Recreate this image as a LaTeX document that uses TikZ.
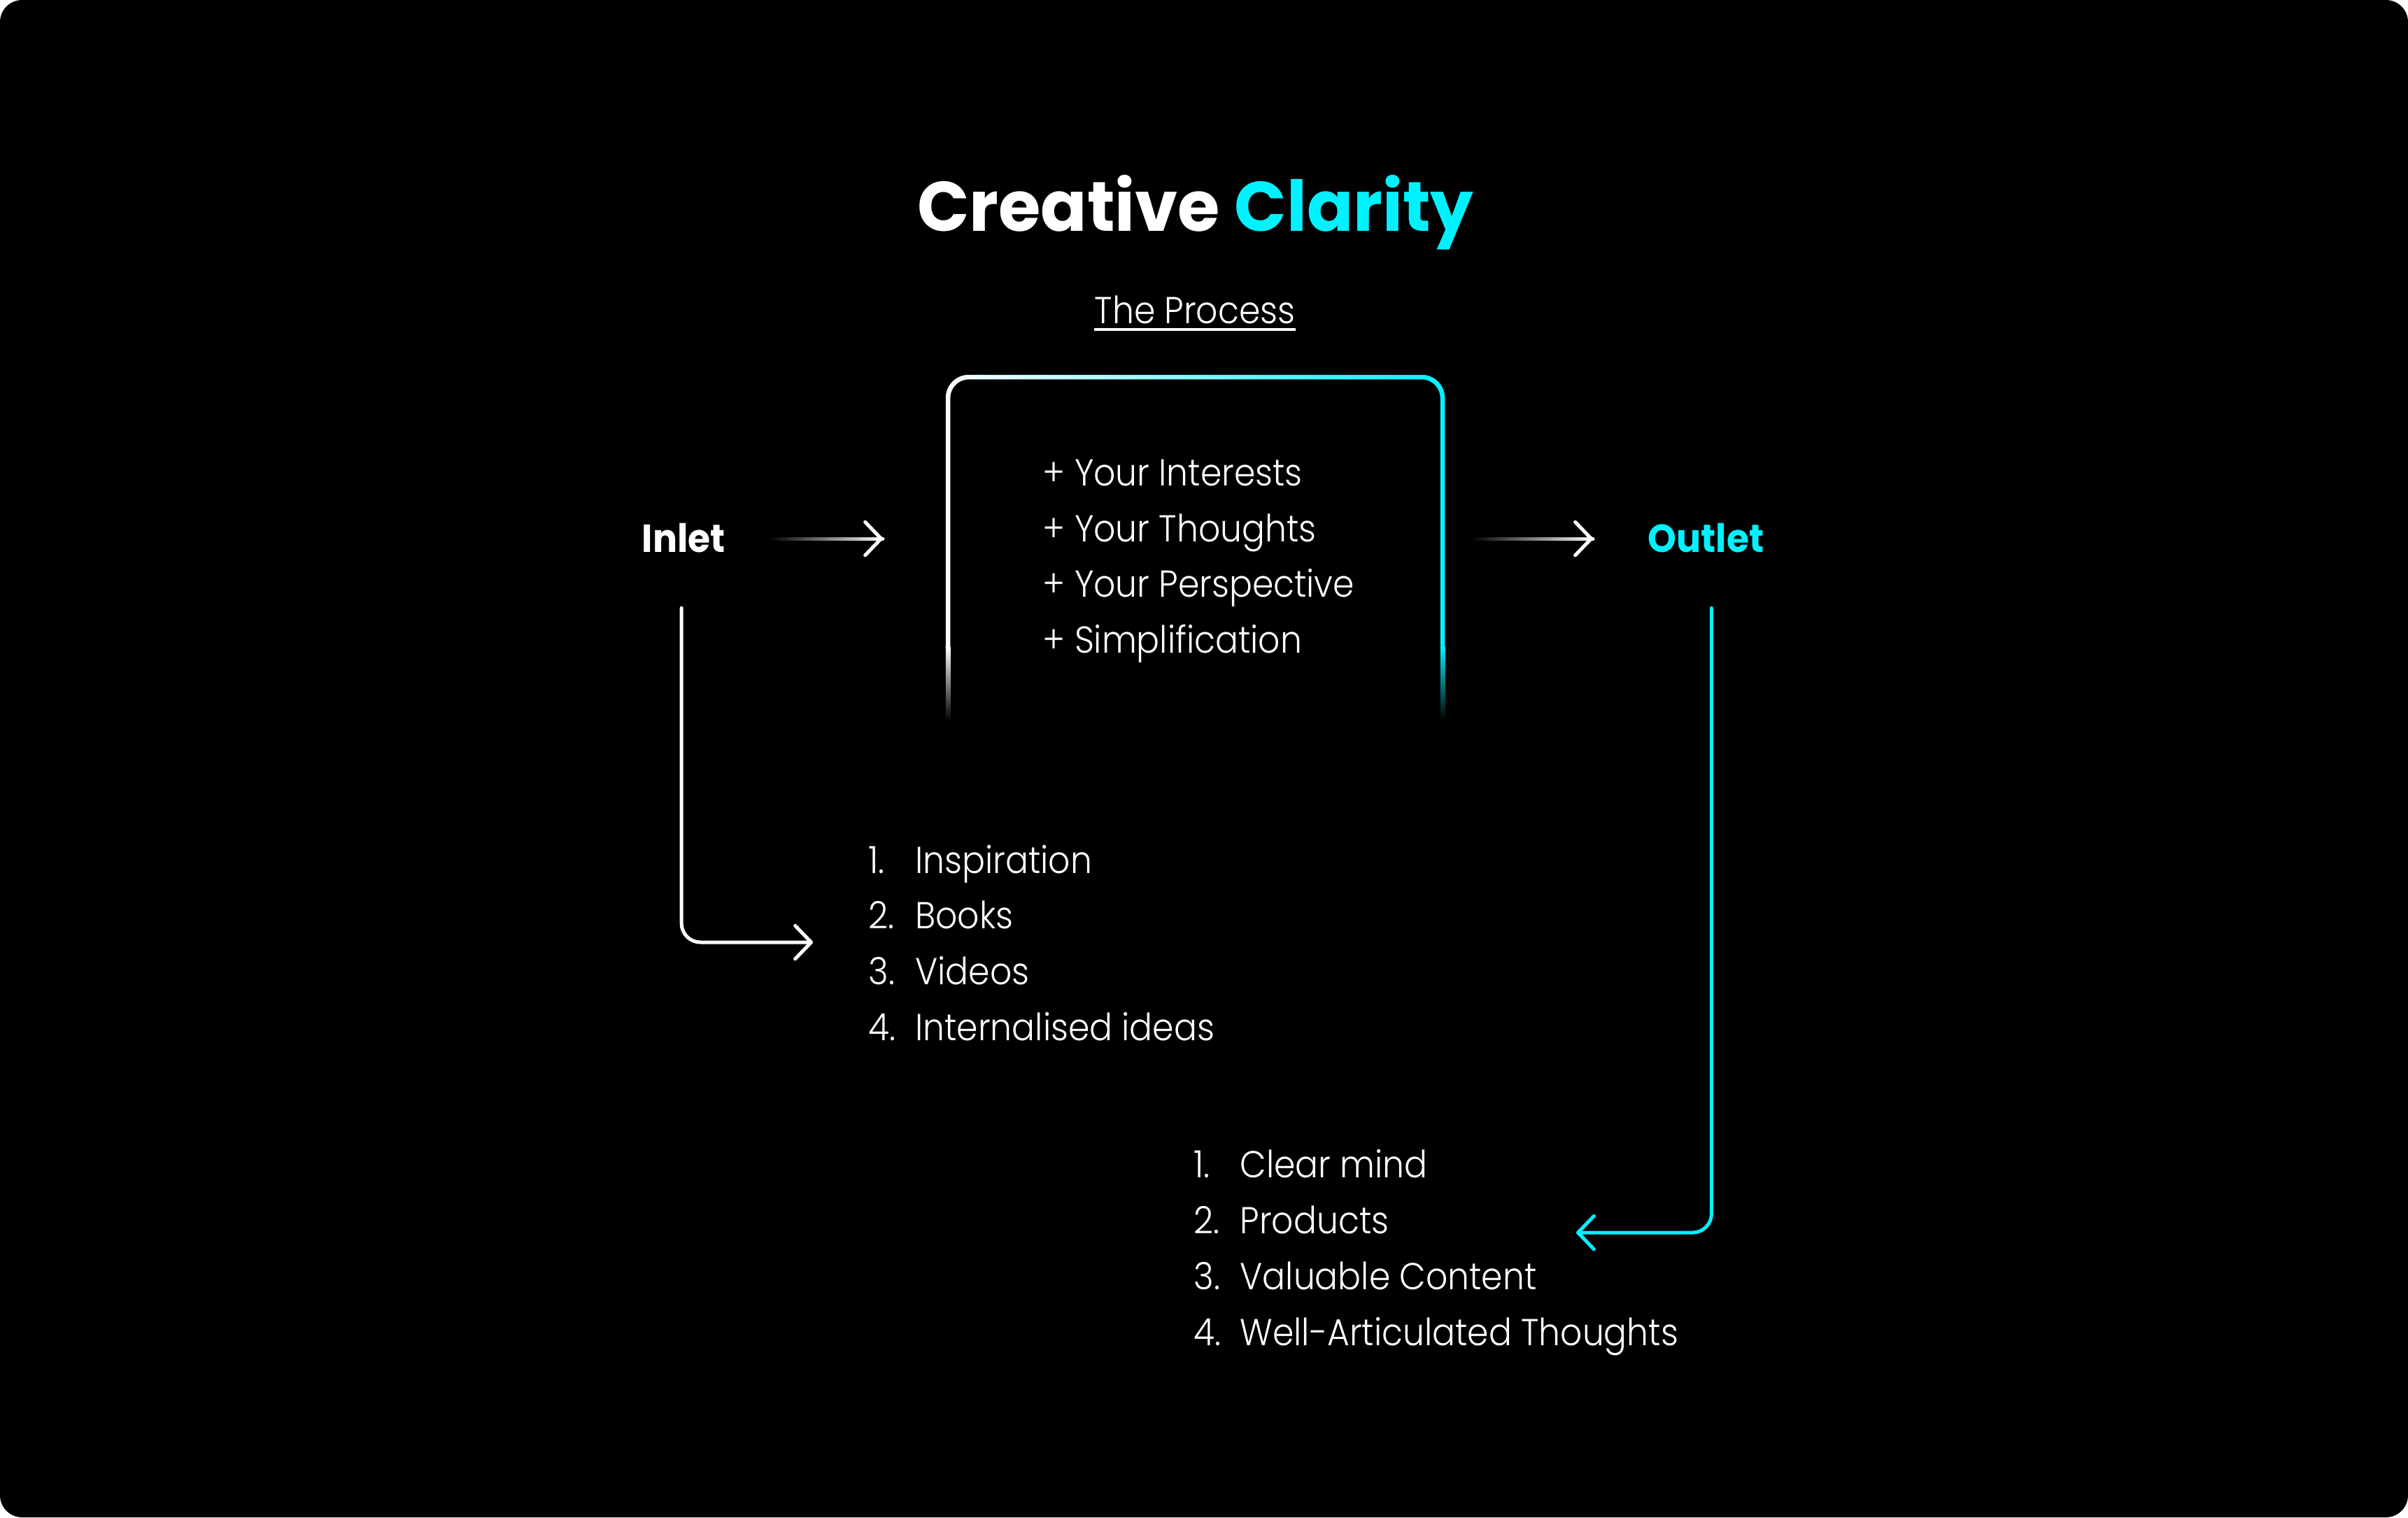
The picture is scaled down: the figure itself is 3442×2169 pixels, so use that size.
\documentclass[tikz,border=0pt]{standalone}
\usepackage{fontspec}
\usetikzlibrary{arrows.meta,calc,fadings}
\newfontfamily\ttlfont{Poppins Bold}[FakeStretch=0.975]
\newfontfamily\bdfont{Poppins Bold}[FakeStretch=0.93]
\newfontfamily\ltfont{Poppins Light}[FakeStretch=0.91]
\definecolor{cy}{HTML}{00F2FF}
\tikzfading[name=fadein, left color=transparent!100, right color=transparent!0]
\tikzset{
  lt/.style={inner sep=0pt, text=white, font=\ltfont\fontsize{15.25pt}{18pt}\selectfont},
  lbl/.style={inner sep=0pt, font=\bdfont\fontsize{15.9pt}{18pt}\selectfont},
  barb/.style={-{Straight Barb[length=6.5pt, width=13.5pt, round]}},
  conn/.style={line width=1.42pt, line cap=round, line join=round},
  tipped/.style={conn, barb},
  fadeline/.style={conn, white, path fading=fadein},
  elbow/.style={tipped, rounded corners=7.7pt},
}
\begin{document}
\begin{tikzpicture}[x=0.01cm, y=-0.01cm]
\fill[white] (0,0) rectangle (3442,2169);
\fill[black, rounded corners=9pt] (0,0) rectangle (3442,2169);
\useasboundingbox (0,0) rectangle (3442,2169);

% title
\node[inner sep=0pt, anchor=base, text=white, font=\ttlfont\fontsize{28.5pt}{34pt}\selectfont] (title) at (1709,330) {Creative \textcolor{cy}{Clarity}};
\node[lt, anchor=base] (proc) at (1708,462) {The Process};
\draw[white, line width=1.1pt] ($(proc.base west)+(0,9)$) -- ($(proc.base east)+(0,9)$);

% inlet / outlet labels
\node[lbl, anchor=base west, text=white] (inlet) at (917,789) {Inlet};
\node[lbl, anchor=base west, text=cy] (outlet) at (2355,789) {Outlet};

% process box
\coordinate (boxL) at (1355,770);
\coordinate (boxR) at (2062,770);
\begin{scope}
\clip (1300,500) rectangle (2100,926);
\shade[left color=white, right color=cy, even odd rule]
  [rounded corners=9.4pt] (1351.75,535.75) rectangle (2065.25,1100)
  [rounded corners=7.6pt] (1358.25,542.25) rectangle (2058.75,1093.75);
\end{scope}
\shade[top color=white, bottom color=black] (1351.75,924) rectangle (1358.25,1030);
\shade[top color=cy, bottom color=black] (2058.75,924) rectangle (2065.25,1030);

\node[lt, anchor=base west] (b1) at (1490,694) {+ Your Interests};
\node[lt, anchor=base west] (b2) at (1490,774) {+ Your Thoughts};
\node[lt, anchor=base west] (b3) at (1490,853) {+ Your Perspective};
\node[lt, anchor=base west] (b4) at (1490,933) {+ Simplification};

% horizontal arrows (fading shaft + solid head)
\coordinate (inA) at ($(inlet.east |- boxL)+(65,0)$);
\coordinate (inB) at ($(boxL)+(-93,0)$);
\coordinate (outA) at ($(boxR)+(43,0)$);
\coordinate (outB) at ($(outlet.west |- boxR)+(-78,0)$);
\draw[fadeline] (inA) -- (inB);
\draw[tipped, white] ($(inB)+(-6,0)$) -- (inB);
\draw[fadeline] (outA) -- (outB);
\draw[tipped, white] ($(outB)+(-6,0)$) -- (outB);

% list 1
\node[lt, anchor=base west] (l1a) at (1241,1248) {\makebox[19pt][l]{1.}Inspiration};
\node[lt, anchor=base west] (l1b) at (1241,1327) {\makebox[19pt][l]{2.}Books};
\node[lt, anchor=base west] (l1c) at (1241,1407) {\makebox[19pt][l]{3.}Videos};
\node[lt, anchor=base west] (l1d) at (1241,1487) {\makebox[19pt][l]{4.}Internalised ideas};

% list 2
\node[lt, anchor=base west] (l2a) at (1706,1683) {\makebox[18.8pt][l]{1.}Clear mind};
\node[lt, anchor=base west] (l2b) at (1706,1763) {\makebox[18.8pt][l]{2.}Products};
\node[lt, anchor=base west] (l2c) at (1706,1843) {\makebox[18.8pt][l]{3.}Valuable Content};
\node[lt, anchor=base west] (l2d) at (1706,1923) {\makebox[18.8pt][l]{4.}Well-Articulated Thoughts};

% elbow arrows
\coordinate (inTip) at ($(l1b.base west)+(-79,20)$);
\coordinate (outTip) at ($(l2b.base west)+(547,-1)$);
\draw[elbow, white] ($(inlet.south)+(-3,79)$) |- (inTip);
\draw[elbow, cy] ($(outlet.south)+(8,79)$) |- (outTip);
\end{tikzpicture}
\end{document}
